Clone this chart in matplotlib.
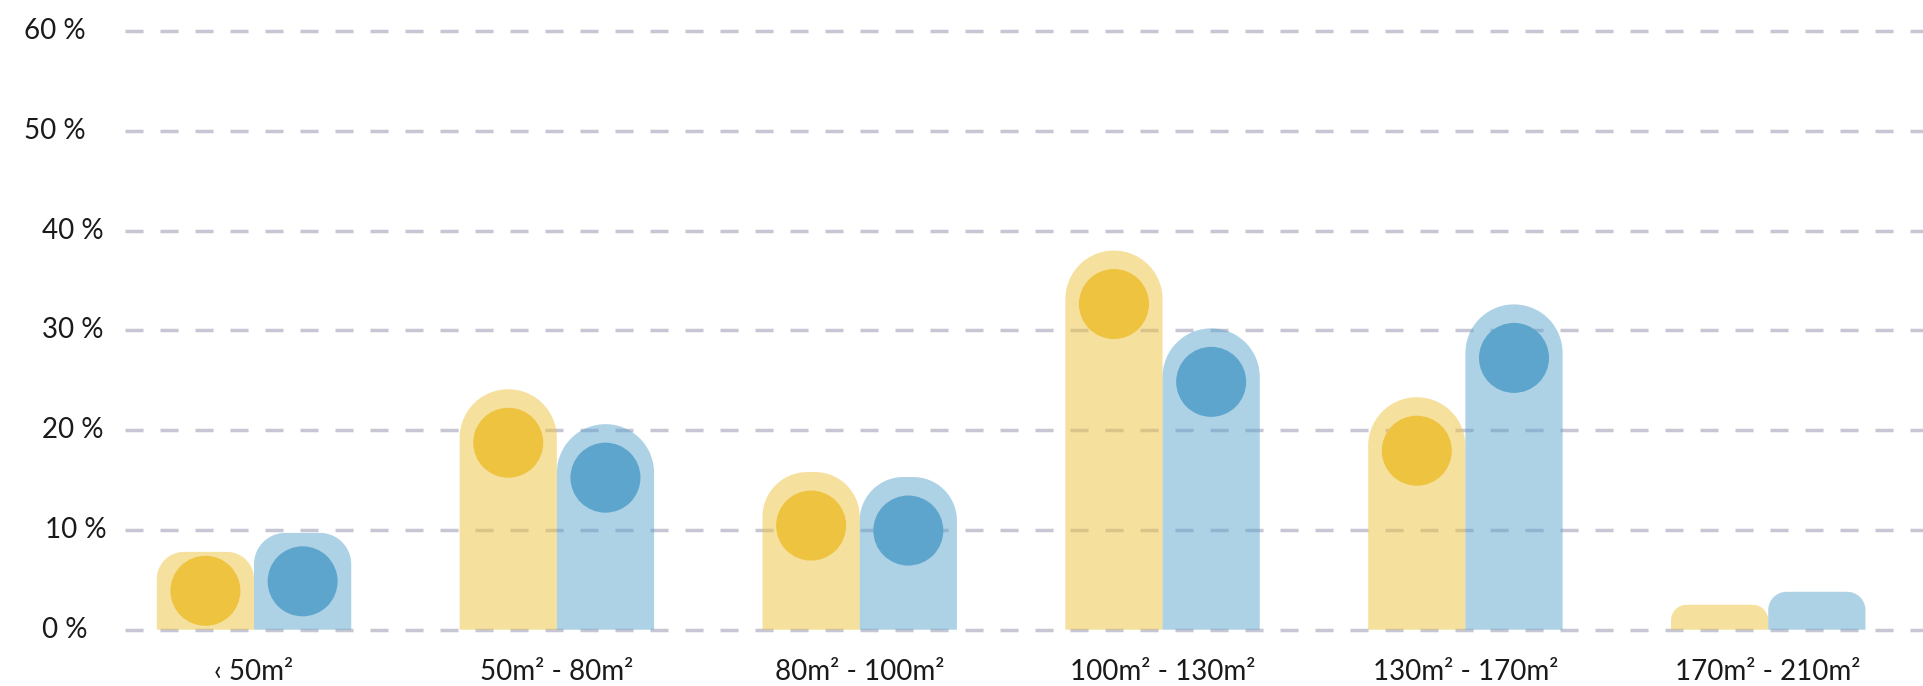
import matplotlib
matplotlib.use("Agg")
import matplotlib.pyplot as plt
from matplotlib.patches import Polygon
from matplotlib.transforms import blended_transform_factory
import numpy as np

# Apartment size brackets and share of dwellings (%) for the two series
categories = ["\u2039 50m\u00b2", "50m\u00b2 - 80m\u00b2", "80m\u00b2 - 100m\u00b2",
              "100m\u00b2 - 130m\u00b2", "130m\u00b2 - 170m\u00b2", "170m\u00b2 - 210m\u00b2"]
series_yellow = [7.8, 24.1, 15.8, 38.0, 23.3, 2.5]
series_blue = [9.7, 20.6, 15.3, 30.2, 32.6, 3.8]
y_ticks = [0, 10, 20, 30, 40, 50, 60]
y_tick_labels = ["0 %", "10 %", "20 %", "30 %", "40 %", "50 %", "60 %"]

YELLOW = "#EEC33F"
BLUE = "#5DA5CD"
GRID = "#C6C6D4"
TEXT = "#1A1A1A"

plt.rcParams["font.family"] = ["Lato", "DejaVu Sans"]
plt.rcParams["lines.scale_dashes"] = False

W_PX, H_PX, DPI = 1923, 686, 100
fig = plt.figure(figsize=(W_PX / DPI, H_PX / DPI), dpi=DPI)

# axes spans from the left end of the grid to the right edge
ax_left_px, ax_right_px = 125, 1923
ax_top_px, ax_bot_px = 21.0, 639.7
ax = fig.add_axes([ax_left_px / W_PX, (H_PX - ax_bot_px) / H_PX,
                   (ax_right_px - ax_left_px) / W_PX, (ax_bot_px - ax_top_px) / H_PX])
xlim = (-0.426, 5.511)
ylim = (-1.0, 61.0)
ax.set_xlim(*xlim)
ax.set_ylim(*ylim)
for s in ax.spines.values():
    s.set_visible(False)
ax.tick_params(length=0)

# pixels per data unit
sx = (ax_right_px - ax_left_px) / (xlim[1] - xlim[0])
sy = (ax_bot_px - ax_top_px) / (ylim[1] - ylim[0])

# dashed grid lines
for t in y_ticks:
    ax.axhline(t, color=GRID, lw=2.5, linestyle=(0, (13.0, 12.2)),
               solid_capstyle="butt", dash_capstyle="butt", zorder=0.5)

bar_w = 0.321


def rounded_bar(x0, x1, h, color):
    h_px = h * sy
    w_px = (x1 - x0) * sx
    r_px = min(w_px / 2, 10 + 0.22 * h_px, h_px)
    rx, ry = r_px / sx, r_px / sy
    pts = [(x0, 0), (x0, h - ry)]
    a = np.linspace(np.pi, np.pi / 2, 30)
    pts += list(zip(x0 + rx + rx * np.cos(a), h - ry + ry * np.sin(a)))
    a = np.linspace(np.pi / 2, 0, 30)
    pts += list(zip(x1 - rx + rx * np.cos(a), h - ry + ry * np.sin(a)))
    pts += [(x1, 0)]
    ax.add_patch(Polygon(pts, closed=True, facecolor=color, alpha=0.5,
                         edgecolor="none", zorder=1))


circle_d_px = 70
circle_offset_px = 53.5
x = np.arange(len(categories))
for i in range(len(categories)):
    for vals, color, sign in ((series_yellow, YELLOW, -1), (series_blue, BLUE, 1)):
        h = vals[i]
        cx = x[i] + sign * bar_w / 2
        rounded_bar(cx - bar_w / 2, cx + bar_w / 2, h, color)
        h_px = h * sy
        if h_px >= circle_d_px + 2:
            cy = h - min(h / 2, circle_offset_px / sy)
            ax.scatter([cx], [cy], s=(circle_d_px * 72 / DPI) ** 2, color=color,
                       edgecolors="none", zorder=2)

# category labels
ax.set_xticks(x)
ax.set_xticklabels(categories, fontsize=20, color=TEXT)
ax.tick_params(axis="x", pad=14)
ax.set_yticks([])

# percentage labels at the left of the grid
trans = blended_transform_factory(fig.transFigure, ax.transData)
label_left_px = [42, 45, 42, 42, 42, 24, 24]
for t, lab, lx in zip(y_ticks, y_tick_labels, label_left_px):
    fig.text(lx / W_PX, t, lab, transform=trans, ha="left", va="center",
             fontsize=20, color=TEXT)

fig.savefig("out.png", dpi=DPI, facecolor="white")
